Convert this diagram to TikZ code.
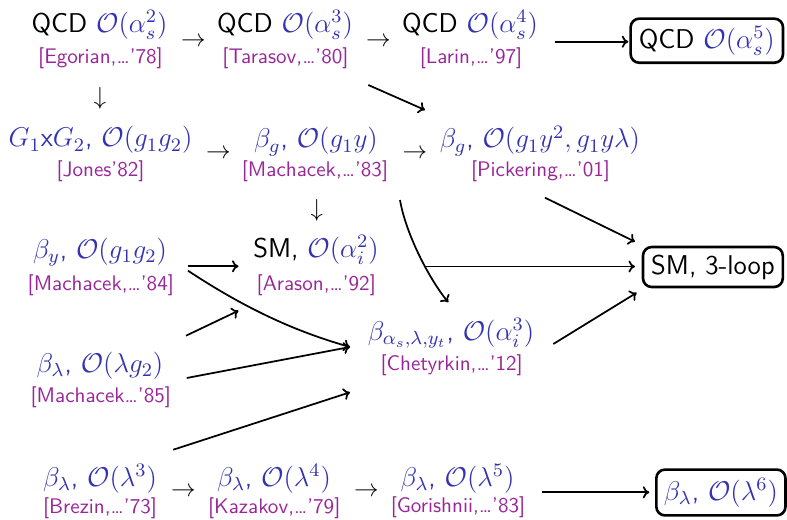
\RequirePackage{fix-cm}
\documentclass[tikz,border=0pt]{standalone}
\usetikzlibrary{arrows.meta}
\definecolor{labelblue}{rgb}{0.2,0.2,0.7}
\definecolor{refpurple}{rgb}{0.6,0.15,0.6}
\newcommand\blk[1]{\textcolor{black}{#1}}
\tikzset{
  lbl/.style={anchor=base, inner sep=0pt, text=labelblue, font=\fontsize{12.5}{14}\selectfont\sffamily},
  ref/.style={anchor=base, inner sep=0pt, text=refpurple, font=\fontsize{9.7}{11}\selectfont\sffamily},
  glyph/.style={inner sep=0pt, font=\fontsize{11.3}{13}\selectfont},
  goal/.style={draw, line width=1.2pt, rounded corners=4pt, inner sep=0pt,
               text=labelblue, font=\fontsize{12.5}{14}\selectfont\sffamily},
  link/.style={-{To[length=3pt,width=5.5pt]}, line width=0.8pt},
}
\begin{document}
\begin{tikzpicture}[x=0.46pt, y=-0.46pt]
\useasboundingbox (0,0) rectangle (787,519);

% --- QCD chain ---
\node[lbl] (qA) at (99.5,32.5) {\blk{QCD} $\mathcal{O}(\alpha_s^2)$};
\node[ref] (qAr) at (100.5,64) {[Egorian,\ldots'78]};
\node[lbl] (qB) at (285,32.5) {\blk{QCD} $\mathcal{O}(\alpha_s^3)$};
\node[ref] (qBr) at (285.5,64) {[Tarasov,\ldots'80]};
\node[lbl] (qC) at (470,32.5) {\blk{QCD} $\mathcal{O}(\alpha_s^4)$};
\node[ref] (qCr) at (471,64) {[Larin,\ldots'97]};
\node[goal, minimum width=70.1pt, minimum height=20.3pt] (qD) at (706.8,40.7) {\blk{QCD} $\mathcal{O}(\alpha_s^5)$};

% --- gauge couplings ---
\node[lbl] (gA) at (100.5,147) {$G_1$x$G_2$, $\mathcal{O}(g_1g_2)$};
\node[ref] (gAr) at (100.5,176.5) {[Jones'82]};
\node[lbl] (gB) at (316,148) {$\beta_g$, $\mathcal{O}(g_1y)$};
\node[ref] (gBr) at (315,176.5) {[Machacek,\ldots'83]};
\node[lbl] (gC) at (540,148) {$\beta_g$, $\mathcal{O}(g_1y^2,g_1y\lambda)$};
\node[ref] (gCr) at (540.5,177) {[Pickering,\ldots'01]};

% --- Yukawa, SM two-loop, SM three-loop ---
\node[lbl] (yA) at (100,258.5) {$\beta_y$, $\mathcal{O}(g_1g_2)$};
\node[ref] (yAr) at (100.8,290) {[Machacek,\ldots'84]};
\node[lbl] (sA) at (316,257.5) {\blk{SM,} $\mathcal{O}(\alpha_i^2)$};
\node[ref] (sAr) at (316.3,290.5) {[Arason,\ldots'92]};
\node[goal, minimum width=64.3pt, minimum height=18.4pt, text=black] (sB) at (712.9,267) {SM, 3-loop};
\node[lbl] (cA) at (451,340.7) {$\beta_{\alpha_s,\lambda,y_t}$, $\mathcal{O}(\alpha_i^3)$};
\node[ref] (cAr) at (451.7,370.7) {[Chetyrkin,\ldots'12]};

% --- scalar self-coupling ---
\node[lbl] (lA) at (100,372) {$\beta_\lambda$, $\mathcal{O}(\lambda g_2)$};
\node[ref] (lAr) at (100.8,402) {[Machacek\ldots'85]};
\node[lbl] (lB) at (100,486) {$\beta_\lambda$, $\mathcal{O}(\lambda^3)$};
\node[ref] (lBr) at (100,513) {[Brezin,\ldots'73]};
\node[lbl] (lC) at (274,486) {$\beta_\lambda$, $\mathcal{O}(\lambda^4)$};
\node[ref] (lCr) at (274.2,513) {[Kazakov,\ldots'79]};
\node[lbl] (lD) at (457.5,486) {$\beta_\lambda$, $\mathcal{O}(\lambda^5)$};
\node[ref] (lDr) at (458,512.5) {[Gorishnii,\ldots'83]};
\node[goal, minimum width=59.4pt, minimum height=21.1pt] (lE) at (720.9,492.5) {$\beta_\lambda$, $\mathcal{O}(\lambda^6)$};

% --- short step arrows set as symbols ---
\node[glyph] (s1) at (193.3,41.7) {$\rightarrow$};
\node[glyph] (s2) at (378.3,41.7) {$\rightarrow$};
\node[glyph] (s3) at (100,98.3) {$\downarrow$};
\node[glyph] (s4) at (218.3,154) {$\rightarrow$};
\node[glyph] (s5) at (415,154) {$\rightarrow$};
\node[glyph] (s6) at (316.7,210) {$\downarrow$};
\node[glyph] (s7) at (183.3,492.3) {$\rightarrow$};
\node[glyph] (s8) at (366.3,492.3) {$\rightarrow$};

% --- connector end points ---
\coordinate (qCo) at (555,41.7);
\coordinate (qDi) at (628.3,41.7);
\coordinate (qBo) at (368.3,85);
\coordinate (gCi) at (425,110);
\coordinate (gCo) at (545,197.7);
\coordinate (sBi1) at (635,241.7);
\coordinate (sAo) at (425,266.5);
\coordinate (sBi2) at (635,266.5);
\coordinate (cAo) at (553.3,344);
\coordinate (sBi3) at (636.7,292.7);
\coordinate (yAo1) at (188,266.3);
\coordinate (sAi) at (238.5,266.3);
\coordinate (yAo2) at (188,270.7);
\coordinate (cAi1) at (350,347);
\coordinate (lAo1) at (186,335.7);
\coordinate (sAi2) at (238.5,310.7);
\coordinate (lAo2) at (186.7,378);
\coordinate (lBo) at (173.3,449.7);
\coordinate (cAi2) at (350,392.3);
\coordinate (gBo) at (400,200);
\coordinate (cAi3) at (448.3,302.3);
\coordinate (lDo) at (541.7,492.3);
\coordinate (lEi) at (649.3,492.3);

% --- long connectors ---
\draw[link] (qCo) -- (qDi);
\draw[link] (qBo) -- (gCi);
\draw[link] (gCo) -- (sBi1);
\draw[link] (sAo) -- (sBi2);
\draw[link] (cAo) -- (sBi3);
\draw[link] (yAo1) -- (sAi);
\draw[link] (yAo2) .. controls (240,305) and (290,330) .. (cAi1);
\draw[link] (lAo1) -- (sAi2);
\draw[link] (lAo2) -- (cAi1);
\draw[link] (lBo) -- (cAi2);
\draw[link] (gBo) .. controls (406,235) and (430,280) .. (cAi3);
\draw[link] (lDo) -- (lEi);
\end{tikzpicture}
\end{document}
